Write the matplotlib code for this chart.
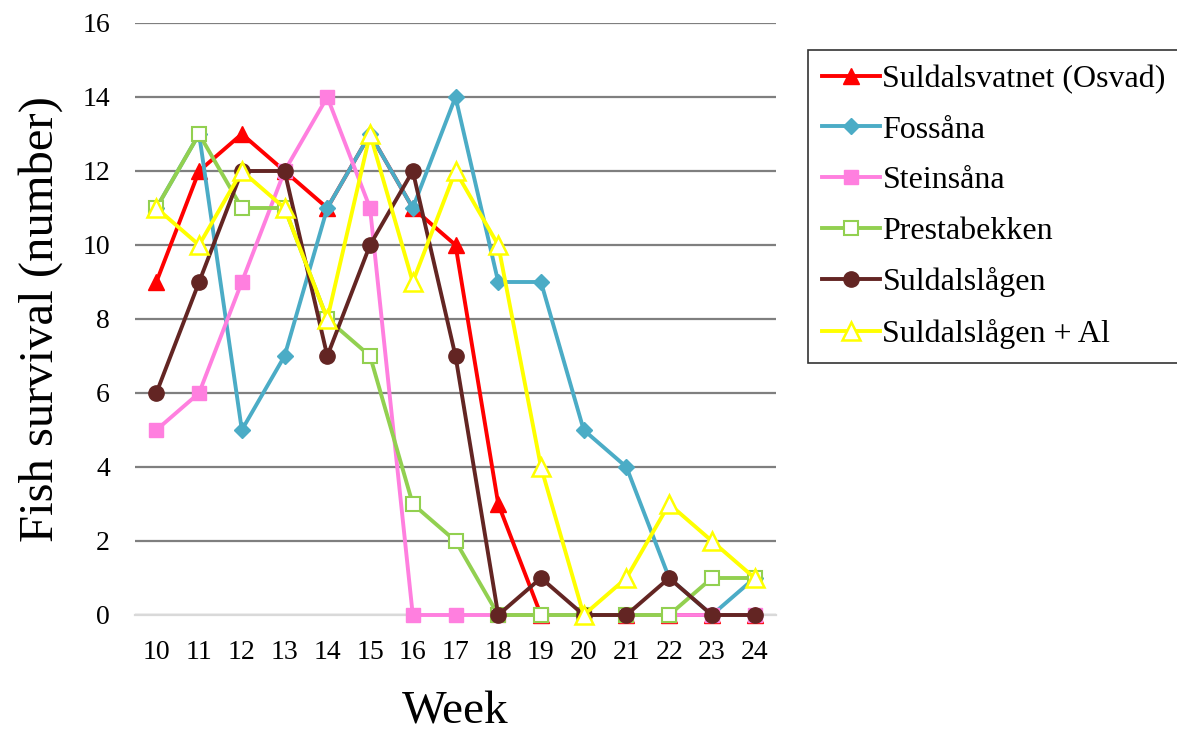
import matplotlib
matplotlib.use("Agg")
import matplotlib.pyplot as plt
import numpy as np

weeks = [10, 11, 12, 13, 14, 15, 16, 17, 18, 19, 20, 21, 22, 23, 24]
suldalsvatnet = [9, 12, 13, 12, 11, 13, 11, 10, 3, 0, 0, 0, 0, 0, 0]
fossana = [11, 13, 5, 7, 11, 13, 11, 14, 9, 9, 5, 4, 1, 0, 1]
steinsana = [5, 6, 9, 12, 14, 11, 0, 0, 0, 0, 0, 0, 0, 0, 0]
prestabekken = [11, 13, 11, 11, 8, 7, 3, 2, 0, 0, 0, 0, 0, 1, 1]
suldalslagen = [6, 9, 12, 12, 7, 10, 12, 7, 0, 1, 0, 0, 1, 0, 0]
suldalslagen_al = [11, 10, 12, 11, 8, 13, 9, 12, 10, 4, 0, 1, 3, 2, 1]
labels = ["Suldalsvatnet (Osvad)", "Fossåna", "Steinsåna", "Prestabekken",
          "Suldalslågen", "Suldalslågen + Al"]
yticks = [0, 2, 4, 6, 8, 10, 12, 14, 16]

plt.rcParams['font.family'] = ['Liberation Serif', 'DejaVu Serif']

fig = plt.figure(figsize=(11.77, 7.33), dpi=100)
ax = fig.add_axes([135/1177, 1-615/733, (776-135)/1177, (615-23)/733])

lw = 2.8
styles = [
    dict(color='#ff0000', marker='^', mfc='#ff0000', mec='#ff0000', ms=11),
    dict(color='#4bacc6', marker='D', mfc='#4bacc6', mec='#4bacc6', ms=8),
    dict(color='#ff7fdf', marker='s', mfc='#ff7fdf', mec='#ff7fdf', ms=10),
    dict(color='#92d050', marker='s', mfc='white', mec='#92d050', ms=10, mew=1.5),
    dict(color='#632523', marker='o', mfc='#632523', mec='#632523', ms=11),
    dict(color='#ffff00', marker='^', mfc='white', mec='#ffff00', ms=13, mew=1.8),
]
series = [suldalsvatnet, fossana, steinsana, prestabekken, suldalslagen, suldalslagen_al]
for vals, lab, st in zip(series, labels, styles):
    ax.plot(weeks, vals, lw=lw, label=lab, zorder=3, clip_on=False, **st)

ax.set_xlim(9.5, 24.5)
ax.set_ylim(0, 16)
ax.set_yticks(yticks)
ax.set_xticks(weeks)
ax.tick_params(axis='y', length=0, labelsize=20, pad=18)
ax.tick_params(axis='x', length=0, labelsize=20, pad=18)
ax.yaxis.grid(True, color='#7f7f7f', lw=1.6, zorder=0)
for s in ['top', 'right', 'left']:
    ax.spines[s].set_visible(False)
ax.spines['bottom'].set_color('#d9d9d9')
ax.spines['bottom'].set_linewidth(1.6)
ax.set_axisbelow(True)

ax.set_xlabel("Week", fontsize=34, labelpad=19)
ax.set_ylabel("Fish survival (number)", fontsize=35, labelpad=14)

leg = fig.legend(loc='upper left', bbox_to_anchor=(808/1177, 1-50/733),
                 fontsize=23, frameon=True, fancybox=False, edgecolor='black',
                 labelspacing=0.67, handlelength=1.8, handletextpad=0.08,
                 borderpad=0.45, borderaxespad=0)
leg.get_frame().set_linewidth(1.2)

fig.savefig("out.png", dpi=100)
